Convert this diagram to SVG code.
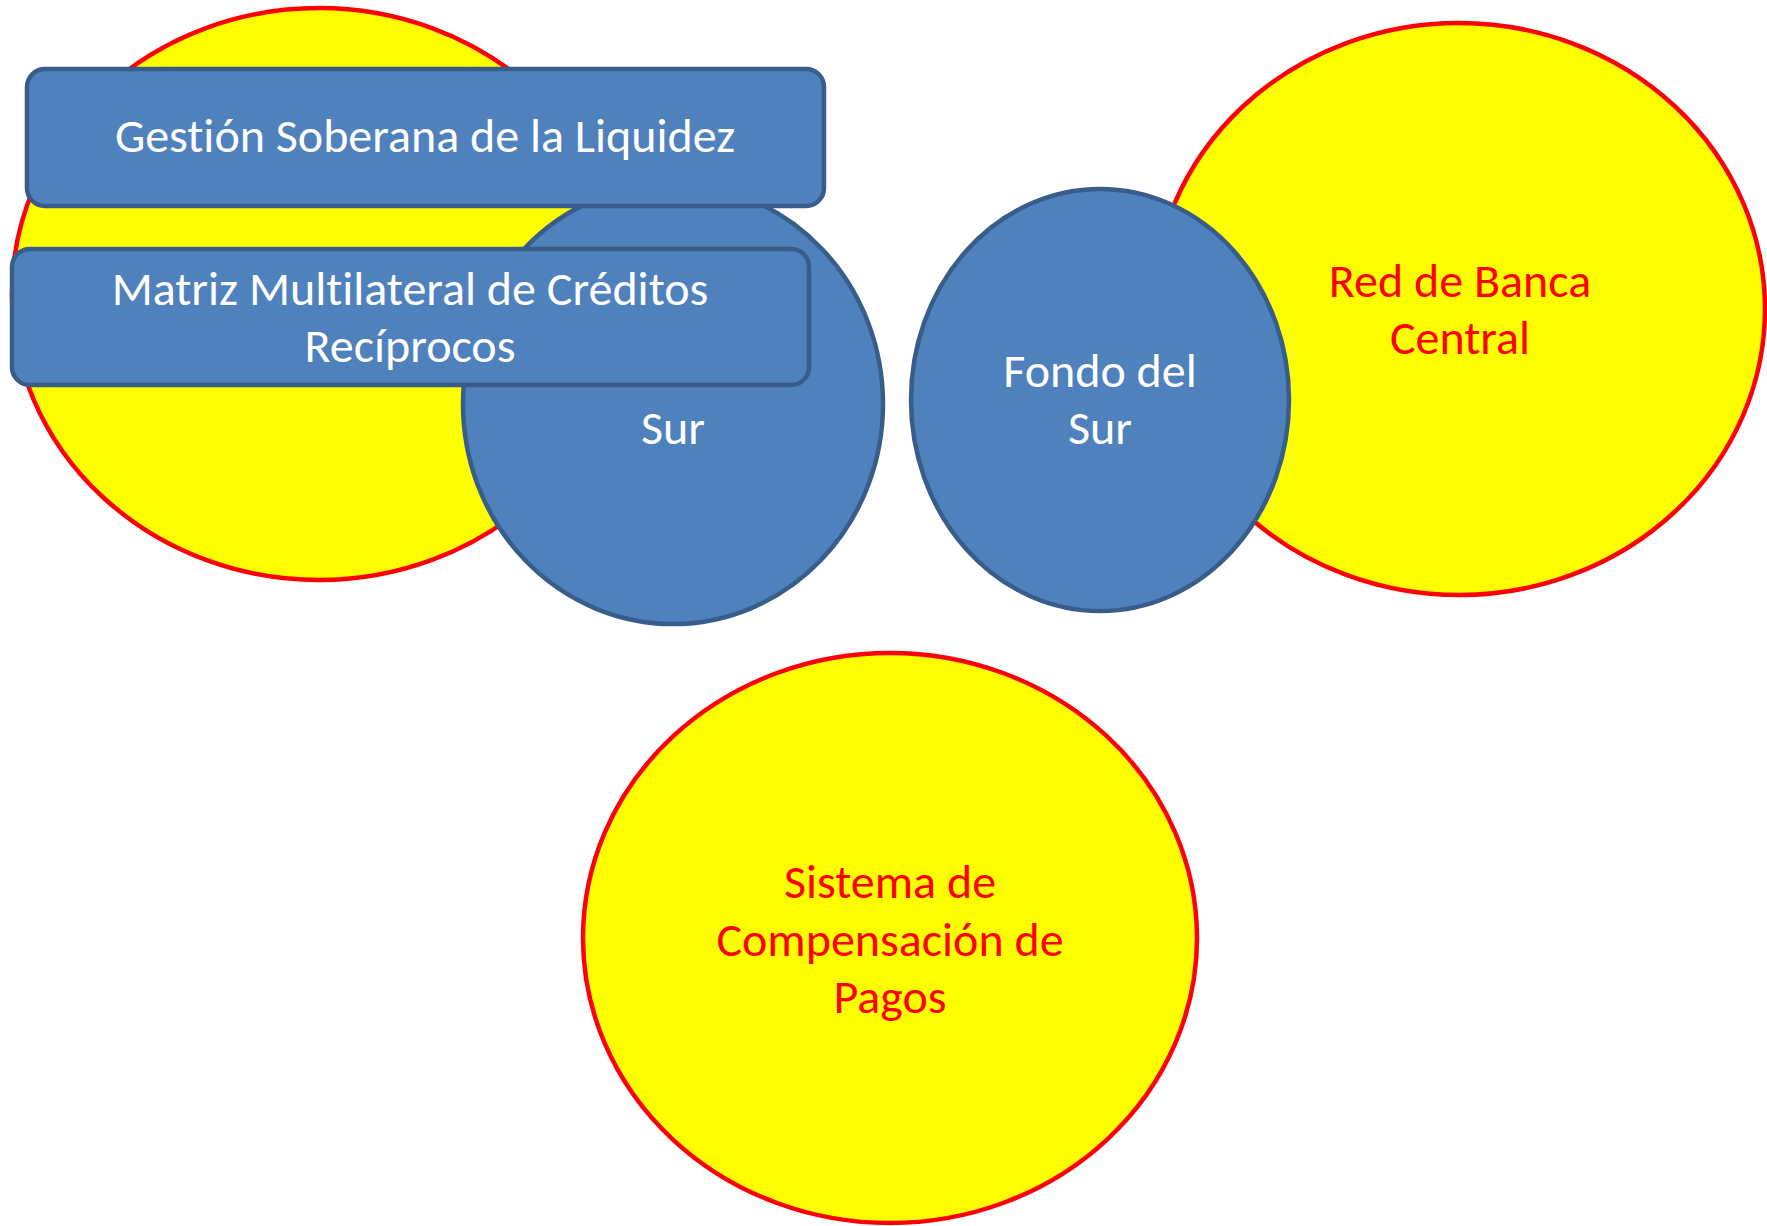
<svg xmlns="http://www.w3.org/2000/svg" width="1767" height="1226" viewBox="0 0 1767 1226">
<style>
.y{fill:#FFFF00;stroke:#FF0000;stroke-width:4.5}
.b{fill:#4F81BD;stroke:#385D8A;stroke-width:4.5}
.t{font-family:Carlito,"Liberation Sans",Arial,sans-serif;font-size:48px;text-anchor:middle;font-variant-ligatures:none}
.w{fill:#FFFFFF}
.r{fill:#FF0000}
</style>
<rect width="1767" height="1226" fill="#FFFFFF"/>
<g id="connectors"/>
<g id="node-left-yellow"><ellipse class="y" cx="319" cy="294" rx="307" ry="286"/></g>
<g id="node-banco-del-sur">
<ellipse class="b" cx="673" cy="404" rx="210" ry="220"/>
<text class="t w" x="673" y="444">Sur</text>
</g>
<g id="node-gestion">
<rect class="b" x="27" y="69" width="797" height="137" rx="18"/>
<text class="t w" x="425" y="152">Gestión Soberana de la Liquidez</text>
</g>
<g id="node-matriz">
<rect class="b" x="12" y="249" width="797" height="136" rx="18"/>
<text class="t w" x="410" y="305">Matriz Multilateral de Créditos</text>
<text class="t w" x="410" y="362">Recíprocos</text>
</g>
<g id="node-red-banca"><ellipse class="y" cx="1459" cy="309" rx="306" ry="286"/>
<text class="t r" x="1460" y="297">Red de Banca</text>
<text class="t r" x="1460" y="354">Central</text>
</g>
<g id="node-fondo-del-sur">
<ellipse class="b" cx="1100" cy="400" rx="189" ry="211"/>
<text class="t w" x="1100" y="387">Fondo del</text>
<text class="t w" x="1100" y="444">Sur</text>
</g>
<g id="node-sistema">
<ellipse class="y" cx="890" cy="938" rx="307" ry="285"/>
<text class="t r" x="890" y="898">Sistema de</text>
<text class="t r" x="890" y="956">Compensación de</text>
<text class="t r" x="890" y="1013">Pagos</text>
</g>
</svg>
